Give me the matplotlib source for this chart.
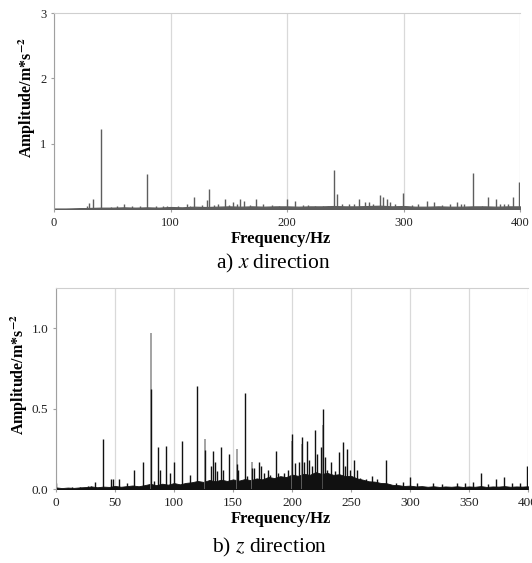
import matplotlib
matplotlib.use("Agg")
import matplotlib.pyplot as plt

# ---------------- data: x direction ----------------
x_ticks = [0, 100, 200, 300, 400]
x_yticks = [1, 2, 3]
x_peak_freq = [21.7, 28, 30, 33.8, 40, 48.6, 53.8, 60, 66.7, 73.8, 80, 87.6, 93.8, 96.7,
               106.7, 113.9, 116.7, 119.8, 127, 131.6, 133.3, 137, 141, 146.8, 150, 153.4,
               156.8, 160, 163.4, 168, 173.4, 179.7, 186.9, 193.4, 200.3, 206.5, 214, 218.3,
               224, 230.6, 235.5, 240, 243.3, 247, 253.2, 257.8, 261.8, 267, 270.4, 274,
               279.8, 282.7, 286.1, 288.4, 293, 299.8, 307, 312.7, 319.9, 326.2, 333, 340,
               346.2, 349.4, 352.2, 359.4, 367.1, 372.8, 379.4, 382.8, 386.3, 390, 394.3, 399.4]
x_peak_amp = [0.02, 0.05, 0.09, 0.16, 1.22, 0.03, 0.05, 0.08, 0.05, 0.04, 0.54, 0.05, 0.05, 0.04,
              0.04, 0.07, 0.05, 0.18, 0.06, 0.14, 0.31, 0.06, 0.08, 0.16, 0.06, 0.10,
              0.07, 0.15, 0.12, 0.06, 0.16, 0.07, 0.06, 0.05, 0.15, 0.12, 0.06, 0.06,
              0.05, 0.05, 0.05, 0.59, 0.23, 0.07, 0.08, 0.07, 0.15, 0.10, 0.10, 0.08,
              0.22, 0.18, 0.16, 0.10, 0.08, 0.24, 0.06, 0.08, 0.12, 0.10, 0.06, 0.07,
              0.10, 0.08, 0.07, 0.55, 0.05, 0.19, 0.15, 0.08, 0.07, 0.08, 0.18, 0.42]
x_floor_freq = [0, 10, 20, 30, 40, 50, 60, 70, 80, 90, 100, 110, 120, 130, 140, 150, 160, 170,
                180, 190, 200, 210, 220, 230, 240, 250, 260, 270, 280, 290, 300, 310, 320,
                330, 340, 350, 360, 370, 380, 390, 400]
x_floor_amp = [0.005, 0.005, 0.01, 0.015, 0.02, 0.02, 0.025, 0.02, 0.025, 0.02, 0.03, 0.025,
               0.035, 0.03, 0.035, 0.04, 0.035, 0.04, 0.035, 0.04, 0.04, 0.035, 0.04, 0.04,
               0.045, 0.04, 0.04, 0.045, 0.05, 0.04, 0.045, 0.035, 0.035, 0.04, 0.035, 0.035,
               0.04, 0.04, 0.035, 0.04, 0.04]

# ---------------- data: z direction ----------------
z_ticks = [0, 50, 100, 150, 200, 250, 300, 350, 400]
z_yticks = [0.0, 0.5, 1.0]
z_ytick_labels = ["0.0", "0.5", "1.0"]
z_peak_freq = [0, 13.3, 20.3, 26.8, 29.4, 33, 40.1, 46.6, 48, 53.7, 59.9, 66.1, 73.4, 80.2, 83,
               86.7, 88.1, 93.2, 96.6, 100.2, 106.5, 113.6, 119.8, 126.3, 131.1, 132.8, 134.7,
               136.7, 139.8, 141.8, 146.6, 153.1, 154.5, 160.2, 162.1, 166.4, 168, 172.3,
               173.5, 176.5, 179.4, 181.4, 186.4, 188.4, 193.2, 196.3, 200.4, 202.2, 206.2,
               208.2, 210.4, 213, 214.7, 217, 219.6, 221.4, 224.4, 226.4, 228, 230, 233,
               236.4, 239.8, 243, 244.9, 246.9, 249.2, 252.8, 254.8, 257.6, 262.7, 267.5,
               272.3, 279.7, 288, 294.3, 300.2, 306.2, 319.8, 326.8, 339.5, 346.6, 353.1,
               359.9, 366.4, 372.9, 379.9, 386.2, 393.2, 399.4]
z_peak_amp = [0.035, 0.01, 0.01, 0.02, 0.02, 0.045, 0.31, 0.06, 0.065, 0.065, 0.035, 0.12, 0.165,
              0.62, 0.05, 0.26, 0.12, 0.27, 0.10, 0.17, 0.30, 0.087, 0.64, 0.24, 0.14, 0.235,
              0.17, 0.11, 0.26, 0.12, 0.215, 0.155, 0.12, 0.60, 0.08, 0.13, 0.13, 0.17,
              0.14, 0.10, 0.12, 0.09, 0.235, 0.10, 0.10, 0.12, 0.34, 0.16, 0.17,
              0.325, 0.17, 0.30, 0.18, 0.14, 0.37, 0.22, 0.26, 0.50, 0.20, 0.12, 0.17,
              0.11, 0.23, 0.29, 0.14, 0.25, 0.12, 0.18, 0.12, 0.07, 0.06, 0.08,
              0.06, 0.18, 0.035, 0.045, 0.075, 0.04, 0.035, 0.03, 0.035, 0.035, 0.045,
              0.10, 0.03, 0.065, 0.075, 0.04, 0.035, 0.14]
z_gray_freq = [80.2, 126.3, 153.1, 166.4, 200.4, 208.2, 226.4]
z_gray_amp = [0.97, 0.31, 0.25, 0.17, 0.30, 0.28, 0.40]
z_floor_freq = [0, 5, 10, 15, 20, 25, 30, 35, 40, 45, 50, 55, 60, 65, 70, 75, 80, 85, 90, 95,
                100, 105, 110, 115, 120, 125, 130, 135, 140, 145, 150, 155, 160, 165, 170,
                175, 180, 185, 190, 195, 200, 205, 210, 215, 220, 225, 230, 235, 240, 245,
                250, 255, 260, 265, 270, 275, 280, 285, 290, 295, 300, 305, 310, 315, 320,
                325, 330, 335, 340, 345, 350, 355, 360, 365, 370, 375, 380, 385, 390, 395, 400]
z_floor_amp = [0.010, 0.006, 0.009, 0.007, 0.010, 0.012, 0.016, 0.011, 0.015, 0.013, 0.019,
               0.014, 0.018, 0.022, 0.017, 0.024, 0.032, 0.024, 0.033, 0.027, 0.037, 0.029,
               0.038, 0.042, 0.050, 0.044, 0.056, 0.048, 0.058, 0.050, 0.060, 0.052, 0.062,
               0.055, 0.066, 0.060, 0.075, 0.068, 0.080, 0.074, 0.090, 0.082, 0.095, 0.088,
               0.105, 0.094, 0.100, 0.088, 0.092, 0.080, 0.082, 0.066, 0.058, 0.048, 0.046,
               0.038, 0.036, 0.026, 0.024, 0.019, 0.021, 0.016, 0.018, 0.014, 0.017, 0.013,
               0.016, 0.014, 0.017, 0.013, 0.016, 0.014, 0.018, 0.013, 0.016, 0.015, 0.018,
               0.014, 0.016, 0.015, 0.017]

plt.rcParams['font.family'] = ['Liberation Serif', 'DejaVu Serif']
plt.rcParams['mathtext.fontset'] = 'stix'

W, H = 532, 563
fig = plt.figure(figsize=(W / 100, H / 100), dpi=100)
ax1 = fig.add_axes([54 / W, 1 - 209 / H, 466 / W, 196 / H])
ax2 = fig.add_axes([56 / W, 1 - 489 / H, 472 / W, 201 / H])

grid_c = "#d9d9d9"

# ---- panel a ----
ax1.fill_between(x_floor_freq, 0, x_floor_amp, color="#5e5e5e", lw=0.9)
ax1.vlines(x_peak_freq, 0, x_peak_amp, color="#5e5e5e", lw=1.0)
ax1.set_xlim(0, 400)
ax1.set_ylim(0, 3)
ax1.set_xticks(x_ticks)
ax1.set_yticks(x_yticks)
ax1.grid(axis="x", color=grid_c, lw=0.9)
ax1.set_axisbelow(True)

# ---- panel b ----
ax2.fill_between(z_floor_freq, -0.008, z_floor_amp, color="#111111", lw=0.6)
ax2.vlines(z_gray_freq, 0, z_gray_amp, color="#8a8a8a", lw=1.1)
ax2.vlines(z_peak_freq, 0, z_peak_amp, color="#111111", lw=1.0)
ax2.set_xlim(0, 400)
ax2.set_ylim(0, 1.25)
ax2.set_xticks(z_ticks)
ax2.set_yticks(z_yticks)
ax2.set_yticklabels(z_ytick_labels)
ax2.grid(axis="x", color=grid_c, lw=0.9)
ax2.set_axisbelow(True)

for ax, fs in ((ax1, 9), (ax2, 9.5)):
    for s in ("right", "bottom"):
        ax.spines[s].set_visible(False)
    ax.spines["top"].set_color("#cfcfcf")
    ax.spines["left"].set_color("#a0a0a0")
    ax.tick_params(axis="both", length=2.5, width=0.8, color="#a0a0a0", pad=3,
                   labelsize=fs, labelcolor="#222222")

# axis titles and captions
fig.text(281 / W, 1 - 239 / H, "Frequency/Hz", ha="center", va="center",
         fontsize=12, fontweight="bold")
fig.text(281 / W, 1 - 519 / H, "Frequency/Hz", ha="center", va="center",
         fontsize=12, fontweight="bold")
fig.text(27 / W, 1 - 98 / H, r"Amplitude/m*s$^{\mathbf{-2}}$", rotation=90,
         ha="center", va="center", fontsize=11.5, fontweight="bold")
fig.text(19 / W, 1 - 375 / H, r"Amplitude/m*s$^{\mathbf{-2}}$", rotation=90,
         ha="center", va="center", fontsize=11.5, fontweight="bold")
fig.text(273 / W, 1 - 263 / H, r"a) $x$ direction", ha="center", va="center", fontsize=15.5)
fig.text(270 / W, 1 - 547 / H, r"b) $z$ direction", ha="center", va="center", fontsize=15.5)

fig.savefig("out.png", dpi=100)
